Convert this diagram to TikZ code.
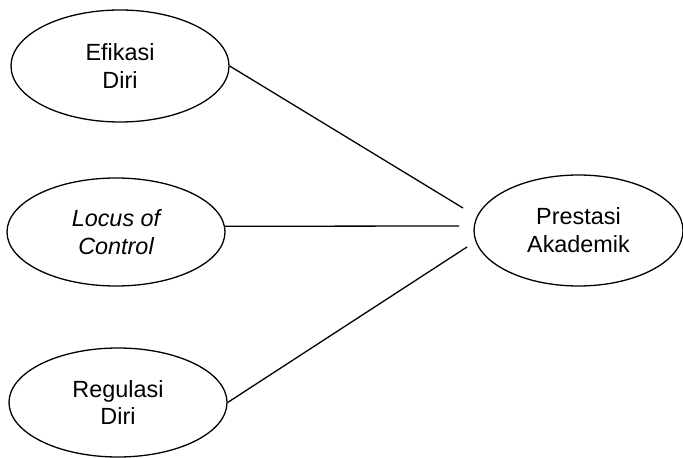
\documentclass[tikz,border=0pt]{standalone}
\usepackage{fontspec}
\setmainfont{Liberation Sans}
\usetikzlibrary{shapes.geometric}

\begin{document}
\begin{tikzpicture}[x=0.5pt,y=-0.5pt,
    var/.style={ellipse,draw,line width=0.65pt,inner sep=0pt,align=center,
        font=\fontsize{11.7}{13.9}\selectfont},
    link/.style={line width=0.65pt}]
    \useasboundingbox (0,0) rectangle (683,458);
    \node [var,minimum width=109pt,minimum height=56pt] (efi) at (120,66) {Efikasi\\Diri};
    \node [var,minimum width=109pt,minimum height=54pt] (loc) at (116,232) {\itshape Locus of\\\itshape Control};
    \node [var,minimum width=109pt,minimum height=54.5pt] (reg) at (118,402.5) {Regulasi\\Diri};
    \node [var,minimum width=104.5pt,minimum height=55.5pt] (pre) at (578.5,230.5) {Prestasi\\Akademik};
    \coordinate (e1) at (463,208);
    \coordinate (e2) at (459,226);
    \coordinate (e3) at (467,247);
    \draw [link] (efi.east) -- (e1);
    \draw [link] (loc.3) -- (e2);
    \draw [link] (reg.east) -- (e3);
\end{tikzpicture}
\end{document}
